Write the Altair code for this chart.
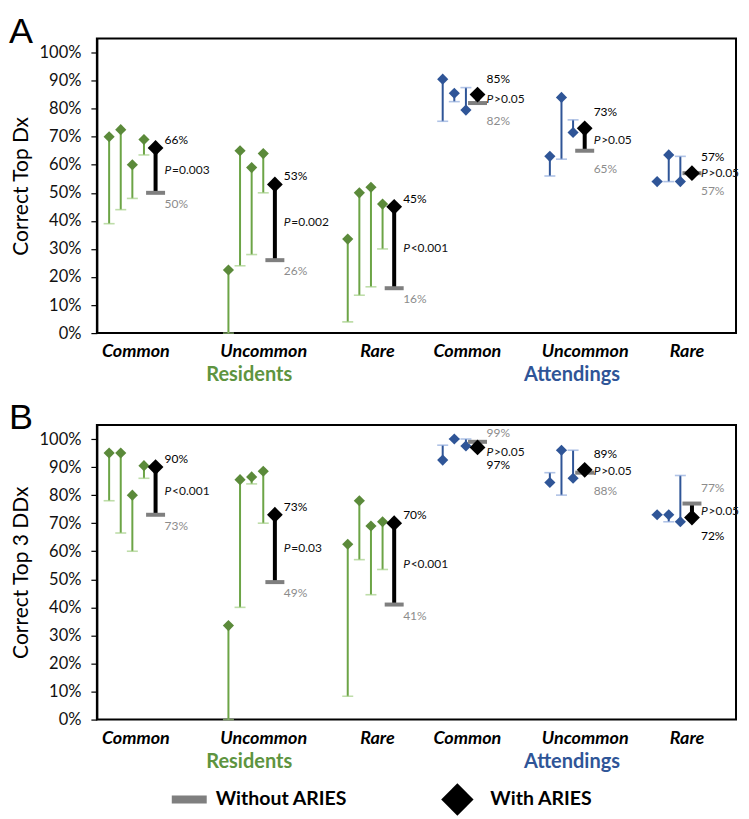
import altair as alt
import pandas as pd

# ---------------- data ----------------
categories = ["Common", "Uncommon", "Rare", "Common", "Uncommon", "Rare"]
cat_group = ["Residents", "Residents", "Residents", "Attendings", "Attendings", "Attendings"]
group_names = ["Residents", "Attendings"]

# Panel A: Correct Top Dx (individual participants, without / with ARIES)
A_without = [
    [0.39, 0.44, 0.48, 0.635],
    [0.00, 0.24, 0.28, 0.50],
    [0.04, 0.135, 0.165, 0.30],
    [0.755, 0.825, 0.875],
    [0.56, 0.62, 0.76],
    [0.54, 0.54, 0.63],
]
A_with = [
    [0.70, 0.725, 0.60, 0.69],
    [0.225, 0.65, 0.59, 0.64],
    [0.335, 0.50, 0.52, 0.46],
    [0.905, 0.855, 0.795],
    [0.63, 0.84, 0.715],
    [0.54, 0.635, 0.54],
]
A_mean_without = [0.50, 0.26, 0.16, 0.82, 0.65, 0.57]
A_mean_with = [0.66, 0.53, 0.45, 0.85, 0.73, 0.57]
A_p = ["P=0.003", "P=0.002", "P<0.001", "P>0.05", "P>0.05", "P>0.05"]

# Panel B: Correct Top 3 DDx
B_without = [
    [0.78, 0.665, 0.60, 0.86],
    [0.00, 0.40, 0.84, 0.70],
    [0.083, 0.57, 0.445, 0.535],
    [0.978, 1.00, 1.00],
    [0.88, 0.80, 0.96],
    [0.73, 0.705, 0.87],
]
B_with = [
    [0.95, 0.95, 0.80, 0.905],
    [0.335, 0.855, 0.865, 0.885],
    [0.625, 0.78, 0.69, 0.705],
    [0.925, 1.00, 0.975],
    [0.845, 0.96, 0.86],
    [0.73, 0.73, 0.705],
]
B_mean_without = [0.73, 0.49, 0.41, 0.99, 0.88, 0.77]
B_mean_with = [0.90, 0.73, 0.70, 0.97, 0.89, 0.72]
B_p = ["P<0.001", "P=0.03", "P<0.001", "P>0.05", "P>0.05", "P>0.05"]

legend_labels = ["Without ARIES", "With ARIES"]

# ---------------- layout / style ----------------
W, H = 640, 295
CLUSTER_X = [0.333, 1.453, 2.573, 3.41, 4.416, 5.423]
LABEL_X = [0.366, 1.566, 2.634, 3.478, 4.584, 5.54]
GROUP_X = [1.43, 4.46]
STEP = 0.109
FONT = "Lato"
LETTER_FONT = "Liberation Sans"
SMALL = 12
TOP_LABEL_CLAMP = 0.965
P_LABEL_CLAMP = 0.955

RES_LINE, RES_DIA, RES_CAP = "#6CA446", "#5B8A3A", "#A2CF84"
ATT_LINE, ATT_DIA, ATT_CAP = "#2F5597", "#2F5597", "#8FAADC"
GREY = "#7F7F7F"
GREY_TXT = "#8C8C8C"

xscale = alt.Scale(domain=[0, 6], nice=False, zero=False)
yscale = alt.Scale(domain=[0, 1.05], nice=False)


def X(field):
    return alt.X(field, type="quantitative", scale=xscale, axis=None)


def Y(field, title):
    return alt.Y(field, type="quantitative", scale=yscale, title=title,
                 axis=alt.Axis(values=[i / 10 for i in range(11)], format=".0%", grid=False,
                               labelFont=FONT, labelFontSize=16.5, labelColor="#111",
                               labelPadding=10, tickSize=6, tickColor="black", tickWidth=1.2,
                               domainColor="black", domainWidth=2,
                               titleFont=FONT, titleFontSize=21, titleFontWeight="normal",
                               titleColor="black", titlePadding=8))


def by_group(c_res, c_att):
    return alt.condition(alt.datum.grp == "Residents", alt.value(c_res), alt.value(c_att))


def panel(without, with_, m_wo, m_w, pvals, ytitle, letter, legend):
    rows = []
    for i in range(6):
        n = len(without[i])
        for j in range(n):
            rows.append(dict(grp=cat_group[i], x=CLUSTER_X[i] + (j - n / 2) * STEP,
                             wo=without[i][j], w=with_[i][j]))
    ind = pd.DataFrame(rows)

    arows, lrows = [], []
    for i in range(6):
        n = len(without[i])
        x = CLUSTER_X[i] + (n / 2) * STEP
        wo, w = m_wo[i], m_w[i]
        arows.append(dict(grp=cat_group[i], x=x, wo=wo, w=w,
                          mid=min((wo + w) / 2, P_LABEL_CLAMP),
                          p1=pvals[i][0], p2=pvals[i][1:]))
        if w >= wo:
            top, bot = ("with", w), ("without", wo)
        else:
            top, bot = ("without", wo), ("with", w)
        lrows.append(dict(grp=cat_group[i], x=x, pos="top", kind=top[0],
                          v=min(top[1], TOP_LABEL_CLAMP), text=f"{round(top[1] * 100)}%"))
        lrows.append(dict(grp=cat_group[i], x=x, pos="bottom", kind=bot[0], v=bot[1],
                          text=f"{round(bot[1] * 100)}%"))
    agg = pd.DataFrame(arows)
    lab = pd.DataFrame(lrows)

    base_i = alt.Chart(ind)
    lines = base_i.mark_rule(strokeWidth=2).encode(
        x=X("x"), y=Y("wo", ytitle), y2="w", color=by_group(RES_LINE, ATT_LINE))
    caps = base_i.mark_tick(orient="horizontal", size=11, thickness=1.6).encode(
        x=X("x"), y=Y("wo", ytitle), color=by_group(RES_CAP, ATT_CAP))
    dias = base_i.mark_point(shape="diamond", filled=True, size=125, opacity=1).encode(
        x=X("x"), y=Y("w", ytitle), color=by_group(RES_DIA, ATT_DIA))

    base_a = alt.Chart(agg)
    arule = base_a.mark_rule(strokeWidth=4, color="black").encode(
        x=X("x"), y=Y("wo", ytitle), y2="w")
    abar = base_a.mark_tick(orient="horizontal", size=19, thickness=4, color=GREY, opacity=1).encode(
        x=X("x"), y=Y("wo", ytitle))
    adia = base_a.mark_point(shape="diamond", filled=True, size=250, color="black", opacity=1).encode(
        x=X("x"), y=Y("w", ytitle))
    p1 = base_a.mark_text(font=FONT, fontSize=SMALL, fontStyle="italic", align="left",
                          baseline="middle", dx=9, color="#111").encode(
        x=X("x"), y=Y("mid", ytitle), text="p1:N")
    p2 = base_a.mark_text(font=FONT, fontSize=SMALL, align="left", baseline="middle",
                          dx=16.5, color="#111").encode(
        x=X("x"), y=Y("mid", ytitle), text="p2:N")

    txt_color = alt.condition(alt.datum.kind == "with", alt.value("black"), alt.value(GREY_TXT))
    label_layers = []
    for grp, dtop, dbot in [("Residents", -8, 11), ("Attendings", -16, 18)]:
        for pos, d in [("top", dtop), ("bottom", dbot)]:
            label_layers.append(
                alt.Chart(lab).transform_filter(
                    (alt.datum.grp == grp) & (alt.datum.pos == pos)
                ).mark_text(font=FONT, fontSize=SMALL, align="left", baseline="middle",
                            dx=9, dy=d).encode(
                    x=X("x"), y=Y("v", ytitle), text="text:N", color=txt_color))

    cats = alt.Chart(pd.DataFrame({"x": LABEL_X, "t": categories})).mark_text(
        font=FONT, fontSize=18, fontWeight="bold", fontStyle="italic", color="black",
        baseline="middle").encode(x=X("x"), y=alt.value(H + 19), text="t:N")
    grps = alt.Chart(pd.DataFrame({"x": GROUP_X, "t": group_names, "grp": group_names})).mark_text(
        font=FONT, fontSize=20, fontWeight="bold", baseline="middle").encode(
        x=X("x"), y=alt.value(H + 42), text="t:N", color=by_group("#5E9440", "#2F5597"))
    one = pd.DataFrame({"t": [letter]})
    let = alt.Chart(one).mark_text(font=LETTER_FONT, fontSize=36, align="left",
                                   baseline="alphabetic", color="black").encode(
        x=alt.value(-88), y=alt.value(4), text="t:N")

    layers = [lines, caps, dias, arule, abar, adia, p1, p2] + label_layers + [cats, grps, let]

    if legend:
        leg_bar = alt.Chart(one).mark_rule(strokeWidth=8, color=GREY).encode(
            x=alt.value(75), x2=alt.value(110), y=alt.value(H + 80))
        leg_t1 = alt.Chart(pd.DataFrame({"t": [legend_labels[0]]})).mark_text(
            font=FONT, fontSize=19.5, fontWeight="bold", align="left", baseline="middle",
            color="black").encode(x=alt.value(119), y=alt.value(H + 80), text="t:N")
        leg_dia = alt.Chart(one).mark_point(shape="diamond", filled=True, size=1050,
                                            color="black", opacity=1).encode(
            x=alt.value(361), y=alt.value(H + 80))
        leg_t2 = alt.Chart(pd.DataFrame({"t": [legend_labels[1]]})).mark_text(
            font=FONT, fontSize=19.5, fontWeight="bold", align="left", baseline="middle",
            color="black").encode(x=alt.value(394), y=alt.value(H + 80), text="t:N")
        layers += [leg_bar, leg_t1, leg_dia, leg_t2]

    return alt.layer(*layers).properties(width=W, height=H)


chart_a = panel(A_without, A_with, A_mean_without, A_mean_with, A_p, "Correct Top Dx", "A", False)
chart_b = panel(B_without, B_with, B_mean_without, B_mean_with, B_p, "Correct Top 3 DDx", "B", True)

chart = alt.vconcat(chart_a, chart_b, spacing=92).properties(
    bounds="flush", padding={"left": 0, "top": 4, "right": 0, "bottom": 0}
).configure_view(stroke="black", strokeWidth=2)

chart.save("out.html", embed_options={"renderer": "svg", "actions": False})
